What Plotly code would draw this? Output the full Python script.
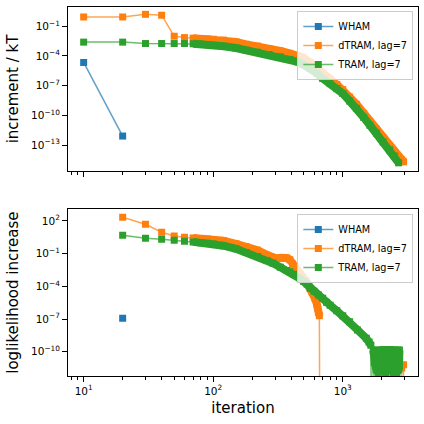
"""Convergence of WHAM / dTRAM / TRAM: increment and loglikelihood increase per iteration."""

import plotly.graph_objects as go
from plotly.subplots import make_subplots

# ---- top panel: increment / kT ----
wham_iter_top = [10, 20]
wham_top = [2.2e-5, 8.1e-13]

dtram_iter_top = [10, 20, 30, 40, 50, 60, 70, 80, 90, 100, 120, 150, 180, 220, 270, 330,
                  390, 450, 490, 560, 630, 700, 800, 900, 1000, 1130, 1280, 1450, 1620,
                  1820, 2050, 2300, 2500, 2700, 2850, 2950]
dtram_top = [0.87, 0.87, 1.6, 1.3, 9.8e-3, 7.2e-3, 6.3e-3, 5.8e-3, 5.4e-3, 4.9e-3, 4.0e-3,
             2.6e-3, 1.5e-3, 1.0e-3, 5.6e-4, 3.2e-4, 1.8e-4, 1.0e-4, 7.1e-5, 2.2e-5, 7.1e-6,
             1.8e-6, 4.5e-7, 1.3e-7, 4.0e-8, 7.1e-9, 1.3e-9, 1.6e-10, 2.5e-11, 4.0e-12,
             5.0e-13, 7.9e-14, 2.0e-14, 5.6e-15, 3.2e-15, 2.0e-15]

tram_iter_top = [10, 20, 30, 40, 50, 60, 70, 80, 90, 100, 120, 150, 180, 220, 270, 330,
                 390, 450, 490, 560, 630, 700, 800, 900, 1000, 1130, 1280, 1450, 1620,
                 1820, 2050, 2300, 2500, 2700]
tram_top = [2.5e-3, 2.5e-3, 1.8e-3, 1.8e-3, 1.8e-3, 1.8e-3, 1.7e-3, 1.6e-3, 1.4e-3, 1.2e-3,
            9.5e-4, 6.3e-4, 3.8e-4, 2.4e-4, 1.4e-4, 8.1e-5, 4.5e-5, 2.5e-5, 1.5e-5, 5.6e-6,
            1.8e-6, 5.4e-7, 1.6e-7, 5.0e-8, 1.6e-8, 2.8e-9, 5.1e-10, 6.3e-11, 1.0e-11,
            1.6e-12, 2.0e-13, 3.2e-14, 7.9e-15, 1.6e-15]

# ---- bottom panel: loglikelihood increase (0 = non-positive) ----
wham_iter_bot = [20]
wham_bot = [1.2e-7]

dtram_iter_bot = [20, 30, 40, 50, 60, 70, 80, 90, 100, 120, 150, 180, 220, 260, 290, 310,
                  330, 350, 370, 390, 410, 440, 470, 490, 520, 550, 580, 610, 630, 640, 650,
                  660, 670, 2800, 2850, 2900, 2950]
dtram_bot = [219, 50, 9.1, 4.2, 3.2, 2.7, 2.4, 2.2, 2.0, 1.5, 0.79, 0.44, 0.21, 0.076, 0.037,
             0.035, 0.042, 0.044, 0.040, 0.028, 0.011, 3.2e-3, 1.3e-3, 7.1e-4, 3.2e-4,
             1.1e-4, 3.2e-5, 7.9e-6, 2.5e-6, 1.0e-6, 4.5e-7, 2.0e-7, 0, 0, 3.2e-12, 0,
             6.3e-12]

tram_iter_bot = [20, 30, 40, 50, 60, 70, 80, 90, 100, 120, 150, 180, 220, 260, 290, 330,
                 370, 390, 420, 470, 500, 530, 560, 600, 650, 700, 750, 800, 900, 1000,
                 1130, 1300, 1520, 1600, 1650,
                 1690, 1720, 1750, 1780, 1810, 1840, 1870, 1900, 1930, 1960, 1990, 2020,
                 2050, 2080, 2110, 2140, 2170, 2200, 2230, 2260, 2290, 2320, 2350, 2380,
                 2410, 2440, 2470, 2500, 2530, 2560, 2590, 2620, 2650, 2680, 2710, 2740]
tram_bot = [4.9, 2.6, 2.1, 1.7, 1.4, 1.2, 1.0, 0.89, 0.78, 0.54, 0.28, 0.13, 0.056, 0.023,
            0.013, 5.6e-3, 2.8e-3, 2.2e-3, 1.3e-3, 5.0e-4, 2.8e-4, 1.6e-4, 6.6e-5, 3.5e-5,
            1.6e-5, 8.0e-6, 3.5e-6, 1.8e-6, 5.6e-7, 2.0e-7, 5.6e-8, 1.0e-8, 1.7e-9, 7.9e-10,
            4.0e-10,
            0, 1.4e-10, 1.0e-11, 3.5e-11, 2.2e-12, 1.4e-10, 9e-13, 1.0e-11, 3.5e-11, 1.4e-10,
            2.2e-12, 0, 1.6e-10, 1.0e-11, 3.5e-11, 9e-13, 1.6e-10, 2.2e-12, 1.0e-11, 1.6e-10,
            3.5e-11, 0, 1.6e-10, 2.2e-12, 1.4e-10, 1.0e-11, 9e-13, 3.5e-11, 1.4e-10, 2.2e-12,
            1.0e-11, 9e-13, 1.4e-10, 3.5e-11, 2.2e-12, 1.4e-10]

BLUE, ORANGE, GREEN = "#1f77b4", "#ff7f0e", "#2ca02c"
LINE_ALPHA = {"#1f77b4": "rgba(31,119,180,0.7)", "#ff7f0e": "rgba(255,127,14,0.7)",
              "#2ca02c": "rgba(44,160,44,0.7)"}
FLOOR = 1e-30  # like matplotlib's clipping of non-positive values on a log axis
FONT = "DejaVu Sans, sans-serif"


def clipped(vals):
    return [v if v > 0 else FLOOR for v in vals]


def band(iters, vals, start):
    # dense runs of overlapping squares -> one thick stroke
    xs, ys = [], []
    for it, v in zip(iters, vals):
        if it < start:
            continue
        xs.append(it)
        ys.append(v if v > 0 else None)
    return xs, ys


fig = make_subplots(rows=2, cols=1, shared_xaxes=True)

panels = [
    (1, "legend", [(wham_iter_top, wham_top, BLUE, "WHAM"),
                   (dtram_iter_top, dtram_top, ORANGE, "dTRAM, lag=7"),
                   (tram_iter_top, tram_top, GREEN, "TRAM, lag=7")]),
    (2, "legend2", [(wham_iter_bot, wham_bot, BLUE, "WHAM"),
                    (dtram_iter_bot, dtram_bot, ORANGE, "dTRAM, lag=7"),
                    (tram_iter_bot, tram_bot, GREEN, "TRAM, lag=7")]),
]

for row, leg, series in panels:
    for iters, vals, color, name in series:
        if len(iters) > 2:
            bx, by = band(iters, vals, 70)
            fig.add_trace(go.Scatter(
                x=bx, y=by, mode="lines",
                line=dict(color=color, width=8),
                showlegend=False, hoverinfo="skip", legend=leg,
            ), row=row, col=1)
        fig.add_trace(go.Scatter(
            x=iters, y=clipped(vals), mode="lines+markers", name=name,
            line=dict(color=LINE_ALPHA[color], width=1.5),
            marker=dict(symbol="square", size=7, color=color),
            legend=leg,
        ), row=row, col=1)

minor_x = [8, 9] + [k * 10 for k in range(2, 10)] + [k * 100 for k in range(2, 10)] + [2000, 3000]

axis_common = dict(
    showline=True, mirror=True, linecolor="black", linewidth=1,
    ticks="outside", ticklen=5, tickwidth=1, tickcolor="black",
    showgrid=False, zeroline=False, automargin=False,
    tickfont=dict(family=FONT, size=10.5, color="black"),
)
title_font = dict(family=FONT, size=15, color="black")

fig.update_xaxes(
    type="log", range=[0.879, 3.581],
    tickvals=[10, 100, 1000],
    ticktext=["10<sup>1</sup>", "10<sup>2</sup>", "10<sup>3</sup>"],
    minor=dict(tickmode="array", tickvals=minor_x, ticks="outside", ticklen=3,
               tickwidth=0.8, tickcolor="black", showgrid=False),
    **axis_common,
)
fig.update_xaxes(title=dict(text="iteration", font=title_font, standoff=6), row=2, col=1)

fig.update_yaxes(
    type="log", range=[-15.62, 0.946], domain=[0.5556, 1.0],
    tickvals=[1e-1, 1e-4, 1e-7, 1e-10, 1e-13],
    ticktext=["10<sup>−1</sup>", "10<sup>−4</sup>", "10<sup>−7</sup>",
              "10<sup>−10</sup>", "10<sup>−13</sup>"],
    title=dict(text="increment / kT", font=title_font, standoff=8),
    row=1, col=1, **axis_common,
)
fig.update_yaxes(
    type="log", range=[-12.23, 3.07], domain=[0.0, 0.4518],
    tickvals=[1e2, 1e-1, 1e-4, 1e-7, 1e-10],
    ticktext=["10<sup>2</sup>", "10<sup>−1</sup>", "10<sup>−4</sup>",
              "10<sup>−7</sup>", "10<sup>−10</sup>"],
    title=dict(text="loglikelihood increase", font=title_font, standoff=8),
    row=2, col=1, **axis_common,
)

legend_common = dict(
    xanchor="right", yanchor="top", x=0.9866,
    bgcolor="rgba(255,255,255,0.8)", bordercolor="#cccccc", borderwidth=1,
    font=dict(family=FONT, size=9.7, color="black"), itemwidth=30,
)

fig.update_layout(
    width=424, height=424,
    margin=dict(l=68, r=6, t=7, b=48, autoexpand=False),
    plot_bgcolor="white", paper_bgcolor="white",
    font=dict(family=FONT, color="black"),
    legend=dict(y=0.989, **legend_common),
    legend2=dict(y=0.439, **legend_common),
)

# drop the browser's default 8px body margin so the figure sits at the window origin
fig.write_html("out.html", config={"displayModeBar": False},
               post_script="document.body.style.margin = '0px';")
